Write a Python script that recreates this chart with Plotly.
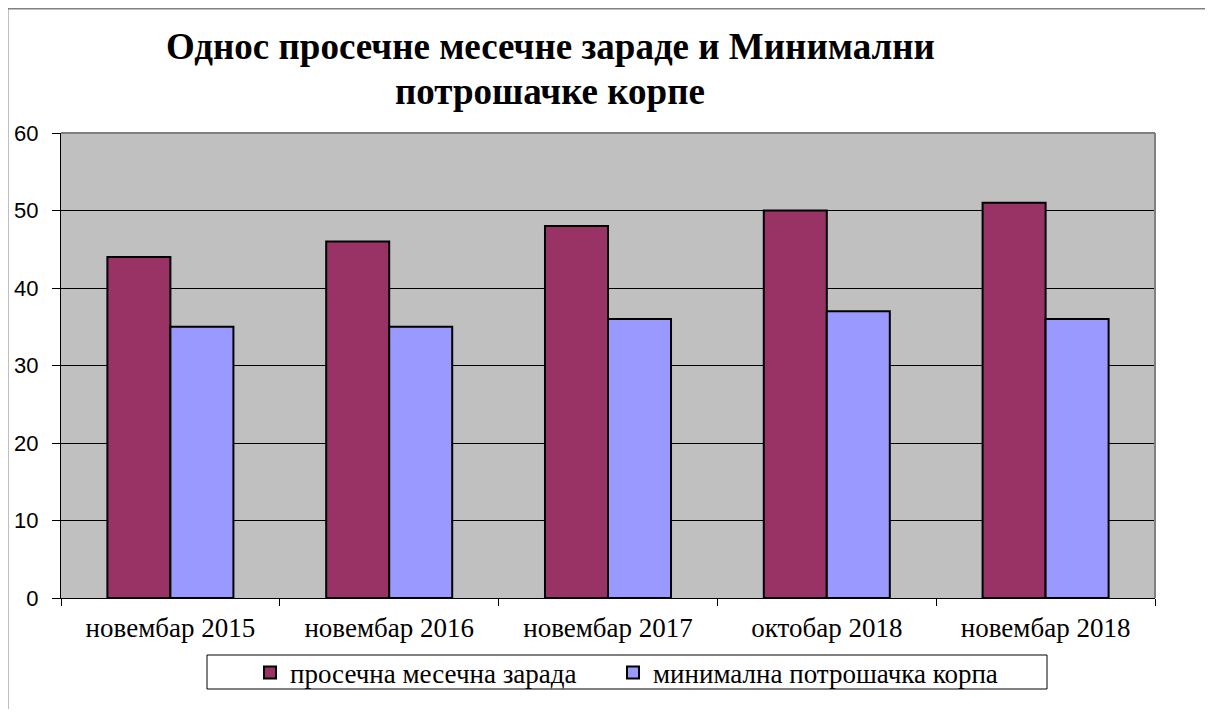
import plotly.graph_objects as go

categories = ["новембар 2015", "новембар 2016", "новембар 2017", "октобар 2018", "новембар 2018"]
avg_salary = [44, 46, 48, 50, 51]
min_basket = [35, 35, 36, 37, 36]
series_names = ["просечна месечна зарада", "минимална потрошачка корпа"]
title_lines = ["Однос просечне месечне зараде и Минимални", "потрошачке корпе"]

OFF = 8  # page body margin
W, H = 1213 - 2 * OFF, 717 - 2 * OFF
# plot area in screen coords
SL, SR, ST, SB = 61, 1155, 133, 598
L, R, T, B = SL - OFF, SR - OFF, ST - OFF, SB - OFF
pw, ph = R - L, B - T

def px(sx):
    return (sx - OFF - L) / pw

def py(sy):
    return (B - (sy - OFF)) / ph

SERIF = "Liberation Serif, Times New Roman, serif"

fig = go.Figure()
fig.add_trace(go.Bar(x=categories, y=avg_salary, name=series_names[0], legend="legend",
                     marker=dict(color="#993366", line=dict(color="black", width=2))))
fig.add_trace(go.Bar(x=categories, y=min_basket, name=series_names[1], legend="legend2",
                     marker=dict(color="#9999FF", line=dict(color="black", width=2))))

legend_common = dict(orientation="h", xanchor="left", yanchor="middle",
                     font=dict(family=SERIF, size=27, color="black"),
                     bgcolor="rgba(0,0,0,0)", borderwidth=0, itemclick=False)

fig.update_layout(
    template="none",
    font=dict(family=SERIF, color="black"),
    width=W, height=H,
    margin=dict(l=L, r=W - R, t=T, b=H - B, pad=0, autoexpand=False),
    paper_bgcolor="white",
    plot_bgcolor="#C0C0C0",
    barmode="group",
    bargap=0.424,
    bargroupgap=0,
    showlegend=True,
    legend=dict(x=px(250), y=py(673), **legend_common),
    legend2=dict(x=px(613), y=py(673), **legend_common),
    xaxis=dict(automargin=False, showline=True, linecolor="black", linewidth=1, ticks="outside",
               tickson="boundaries", ticklen=7, tickcolor="black", tickwidth=1,
               tickfont=dict(family=SERIF, size=27, color="black"),
               ticklabelstandoff=6, showgrid=False, zeroline=False),
    yaxis=dict(automargin=False, range=[0, 60], dtick=10, showline=True, linecolor="black",
               linewidth=1, ticks="outside", ticklen=8, tickcolor="black", tickwidth=1,
               tickfont=dict(family="Liberation Sans, Arial, sans-serif", size=22, color="black"),
               ticklabelstandoff=9, showgrid=True, gridcolor="black", gridwidth=1,
               zeroline=False),
)

annotations = [
    dict(text=title_lines[0], xref="paper", yref="paper", x=px(550), y=py(47),
         xanchor="center", yanchor="middle", showarrow=False,
         font=dict(family=SERIF, size=37, color="black", weight="bold")),
    dict(text=title_lines[1], xref="paper", yref="paper", x=px(550), y=py(91),
         xanchor="center", yanchor="middle", showarrow=False,
         font=dict(family=SERIF, size=37, color="black", weight="bold")),
]

shapes = [
    dict(type="line", xref="paper", yref="paper", x0=0, x1=1, y0=1, y1=1,
         line=dict(color="#808080", width=2)),
    dict(type="line", xref="paper", yref="paper", x0=1, x1=1, y0=0, y1=1,
         line=dict(color="#808080", width=2)),
    dict(type="rect", xref="paper", yref="paper", x0=px(7.5), x1=px(1240), y0=py(740), y1=py(8.5),
         line=dict(color="#808080", width=2)),
    dict(type="rect", xref="paper", yref="paper", x0=px(207), x1=px(1047), y0=py(689), y1=py(655),
         line=dict(color="black", width=1)),
]
fig.update_layout(shapes=shapes, annotations=annotations)

fig.write_html("out.html")
